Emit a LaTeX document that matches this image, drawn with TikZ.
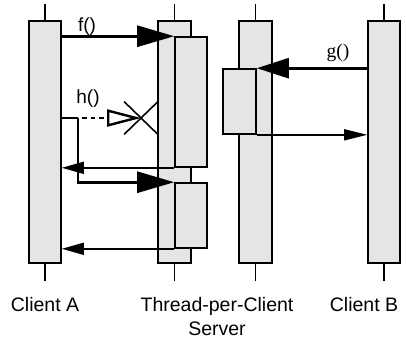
\documentclass[tikz,border=0pt]{standalone}
\usepackage{fontspec}
\setmainfont{Liberation Sans}
\newfontfamily\serifcall{Liberation Serif}
\usetikzlibrary{arrows.meta,shapes.misc}
\definecolor{barfill}{gray}{0.9}

\begin{document}
\begin{tikzpicture}[x=1pt,y=-1pt,
  bar/.style={draw,fill=barfill,line width=1.6pt,inner sep=0pt,minimum width=32pt},
  life/.style={line width=1.2pt},
  call/.style={line width=2.6pt,-{Triangle[length=37pt,width=21pt]}},
  reply/.style={line width=1.6pt,-{Triangle[length=22pt,width=12pt]}},
  actorlabel/.style={font=\fontsize{19.5}{24}\selectfont,align=center,inner sep=0pt,anchor=north},
  oplabel/.style={font=\fontsize{19}{20}\selectfont,inner sep=0pt}]

\useasboundingbox (0,0) rectangle (406,343);

\node[bar,minimum height=242pt] (clientA) at (45,142) {};
\node[bar,minimum height=242pt,minimum width=33pt] (server) at (174.5,142) {};
\node[bar,minimum height=130pt] (thread1) at (191,102) {};
\node[bar,minimum height=65pt] (thread2) at (191,215.5) {};
\node[bar,minimum height=242pt,minimum width=33pt] (server2) at (255.5,142) {};
\node[bar,minimum height=65pt,minimum width=33pt] (threadB) at (239.5,101.5) {};
\node[bar,minimum height=242pt] (clientB) at (384,142) {};

\foreach \b in {clientA,server,server2,clientB} {
  \draw[life] (\b.north) -- ++(0,-16);
  \draw[life] (\b.south) -- ++(0,17);
}

% calls from client A
\draw[call] (clientA.east |- thread1.north) -- (thread1.north west);
\coordinate (hbend) at (78,118);
\node[cross out,draw,line width=1.6pt,minimum width=32pt,minimum height=31pt,inner sep=0pt] (killed) at (141,118) {};
\draw[line width=2.6pt] (clientA.east |- hbend) -- (hbend);
\draw[line width=2.4pt,dash pattern=on 4.5pt off 4pt,dash phase=4.5pt,-{Triangle[open,length=34pt,width=17pt]}] (hbend) -- (killed.center);
\draw[call] (hbend) -- (hbend |- thread2.north) -- (thread2.north west);
\draw[reply] (thread1.south west) -- (clientA.east |- thread1.south);
\draw[reply] (thread2.south west) -- (clientA.east |- thread2.south);

% call from client B
\draw[call,-{Triangle[length=32pt,width=20pt]}] (clientB.west |- threadB.north) -- (threadB.north east);
\draw[reply,-{Triangle[length=23pt,width=11pt]}] (threadB.south east) -- (clientB.west |- threadB.south);

\node[oplabel] (fcall) at (87,27) {f()};
\node[oplabel] (hcall) at (88,99) {h()};
\node[oplabel,font=\serifcall\fontsize{19.5}{20}\selectfont] (gcall) at (338,53) {g()};

\node[actorlabel] (nameA) at (45,297) {Client A};
\node[actorlabel] (nameS) at (217,297) {Thread-per-Client\\Server};
\node[actorlabel] (nameB) at (364,297) {Client B};
\end{tikzpicture}
\end{document}
